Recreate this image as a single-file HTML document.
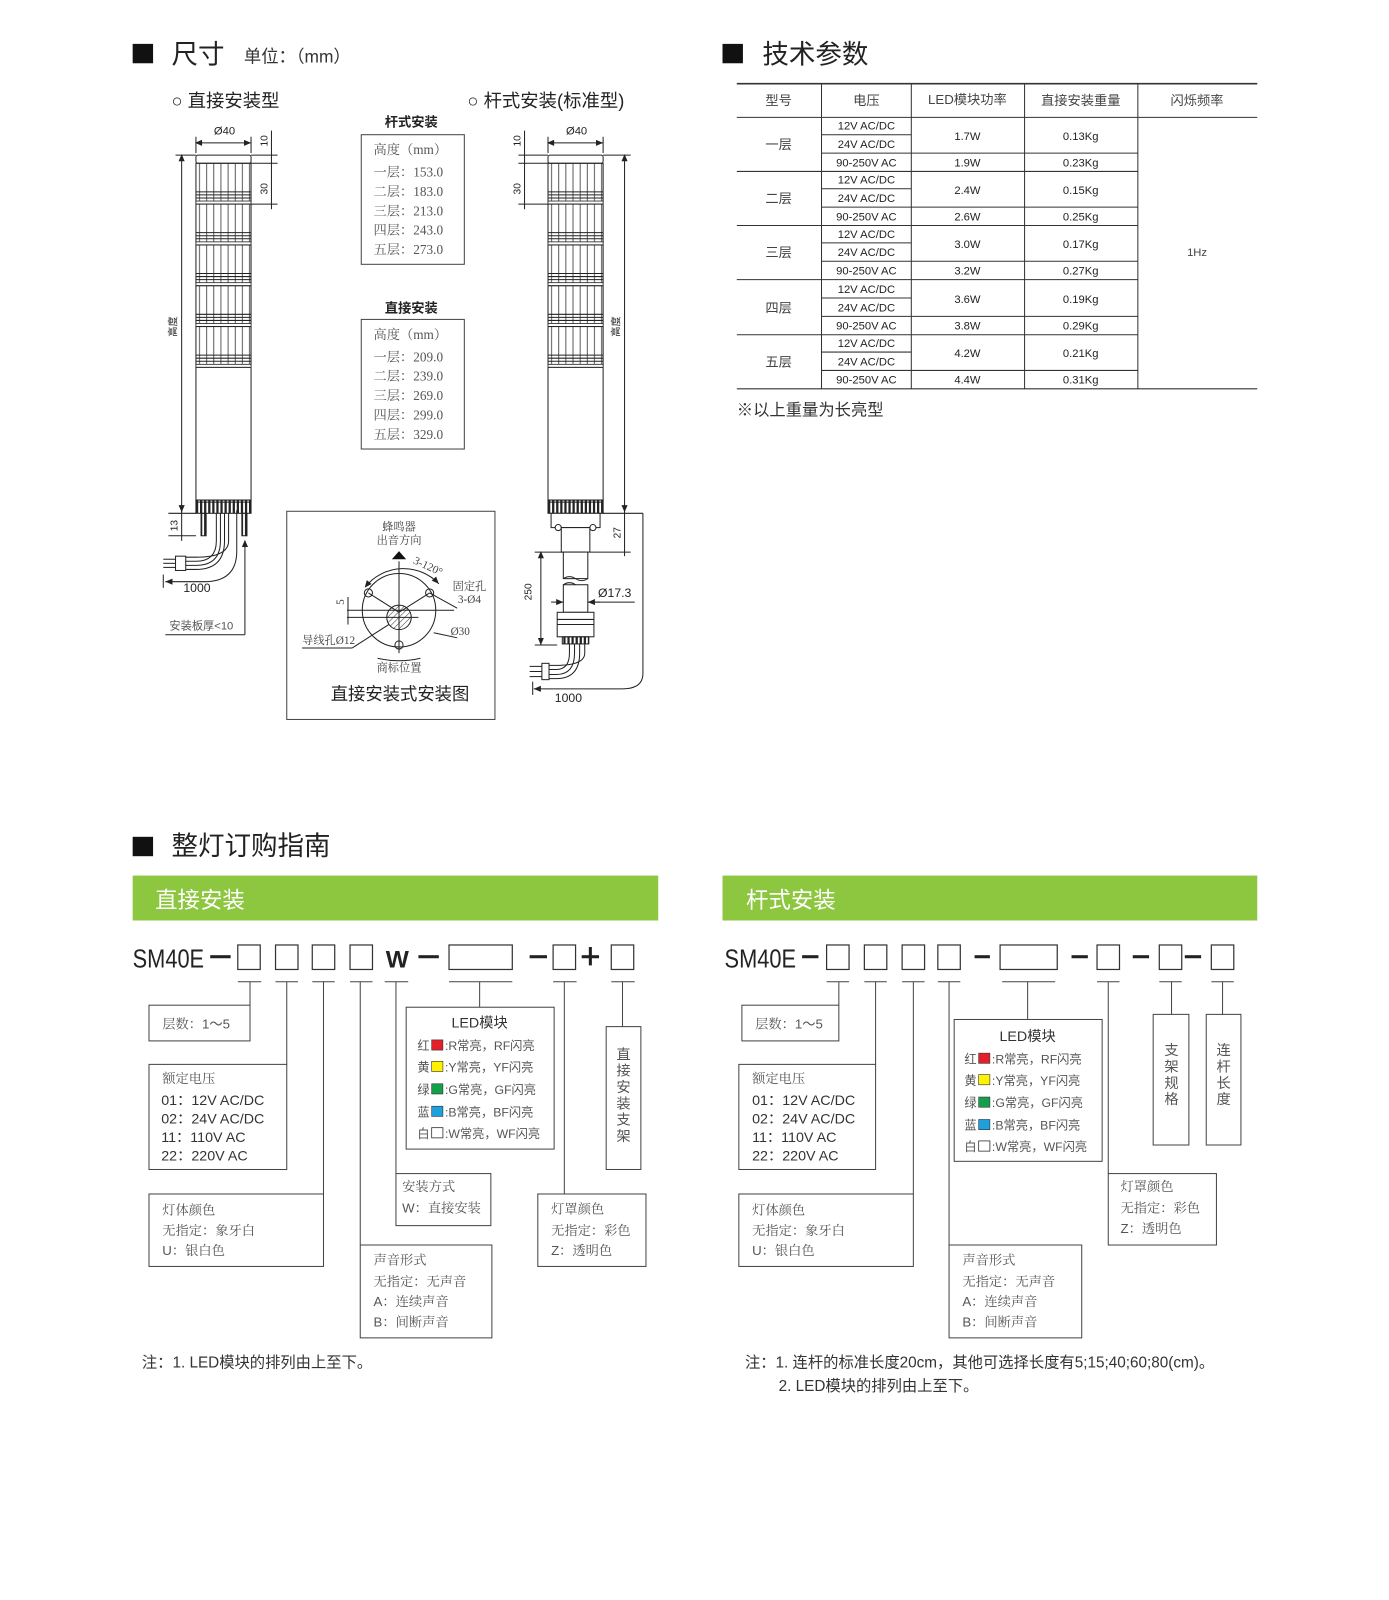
<!DOCTYPE html>
<html><head><meta charset="utf-8"><style>
html,body{margin:0;padding:0;background:#fff;}
svg{display:block;}
.cn{font-family:"Liberation Sans","Noto Sans CJK SC",sans-serif;}
.sr{font-family:"Liberation Serif","Noto Serif CJK SC",serif;}
</style></head><body>
<svg width="1389" height="1600" viewBox="0 0 1389 1600" xmlns="http://www.w3.org/2000/svg" font-family="Liberation Sans, Noto Sans CJK SC, sans-serif">
<defs>
<pattern id="rib" width="7" height="10" patternUnits="userSpaceOnUse"><line x1="3.5" y1="0" x2="3.5" y2="10" stroke="#333" stroke-width="0.8"/></pattern>
<pattern id="rib2" width="4" height="10" patternUnits="userSpaceOnUse"><rect x="0" y="0" width="2.2" height="10" fill="#222"/></pattern>
<pattern id="hatch" width="4" height="4" patternUnits="userSpaceOnUse" patternTransform="rotate(45)"><line x1="0" y1="0" x2="0" y2="4" stroke="#333" stroke-width="1"/></pattern>
<marker id="ar" markerWidth="8" markerHeight="8" refX="7" refY="4" orient="auto"><path d="M0,1 L7,4 L0,7 z" fill="#222"/></marker>
<marker id="as" markerWidth="8" markerHeight="8" refX="1" refY="4" orient="auto"><path d="M7,1 L0,4 L7,7 z" fill="#222"/></marker>
<g id="tier"><rect x="0" y="0" width="54" height="38" fill="url(#rib)" stroke="#222" stroke-width="1"/><line x1="0" y1="28" x2="54" y2="28" stroke="#222"/><line x1="0" y1="31" x2="54" y2="31" stroke="#222"/><line x1="0" y1="34" x2="54" y2="34" stroke="#222"/><rect x="0" y="37" width="54" height="3" fill="#fff" stroke="#222" stroke-width="0.8"/></g>
<g id="lamp"><rect x="0" y="0" width="54" height="8" rx="2" fill="#fff" stroke="#222"/>
<use href="#tier" y="8"/><use href="#tier" y="48"/><use href="#tier" y="88"/><use href="#tier" y="128"/><use href="#tier" y="168"/>
<rect x="0" y="208" width="54" height="130" fill="#fff" stroke="#222"/>
<rect x="0" y="338" width="54" height="13" fill="url(#rib2)" stroke="#222"/><line x1="0" y1="340" x2="54" y2="340" stroke="#222"/></g>
</defs>
<g transform="scale(1.0205)">
<!-- headers -->
<rect x="130" y="43" width="20" height="19" fill="#111"/>
<text x="168" y="62" font-size="26" fill="#222">尺寸</text>
<text x="239" y="61" font-size="17" fill="#333">单位：（mm）</text>
<rect x="708" y="43" width="20" height="19" fill="#111"/>
<text x="747" y="62" font-size="26" fill="#222">技术参数</text>

<text x="168" y="105" font-size="18" fill="#222">○ 直接安装型</text>
<text x="458" y="105" font-size="18" fill="#222">○ 杆式安装(标准型)</text>

<!-- left lamp -->
<g transform="translate(192,152)"><use href="#lamp"/></g>
<g stroke="#222" fill="none" stroke-width="1">
<line x1="192" y1="140" x2="246" y2="140" marker-end="url(#ar)" marker-start="url(#as)"/>
<line x1="192" y1="134" x2="192" y2="150"/><line x1="246" y1="134" x2="246" y2="150"/>
<line x1="266" y1="128" x2="266" y2="205"/>
<line x1="246" y1="152" x2="272" y2="152"/><line x1="246" y1="160" x2="272" y2="160"/><line x1="246" y1="200" x2="272" y2="200"/>
<line x1="178" y1="152" x2="178" y2="502" marker-end="url(#ar)" marker-start="url(#as)"/>
<line x1="172" y1="152" x2="192" y2="152"/>
<line x1="165" y1="503" x2="192" y2="503"/><line x1="165" y1="525" x2="192" y2="525"/>
<line x1="178" y1="495" x2="178" y2="530"/>
<rect x="197" y="503" width="5" height="22" fill="url(#rib2)"/><rect x="237" y="503" width="5" height="22" fill="url(#rib2)"/>
<path d="M212,503 V530 Q212,550 192,550 H182"/><path d="M216,503 V530 Q216,554 192,554 H182"/><path d="M220,503 V530 Q220,558 192,558 H182"/><path d="M224,503 V530 Q224,546 192,546 H182"/>
<rect x="172" y="545" width="10" height="14" fill="#fff"/>
<line x1="160" y1="548" x2="172" y2="548"/><line x1="160" y1="552" x2="172" y2="552"/><line x1="160" y1="556" x2="172" y2="556"/>
<path d="M232,500 V540 Q232,570 200,570 H162" marker-end="url(#ar)"/>
<line x1="160" y1="563" x2="160" y2="576"/>
<line x1="240" y1="530" x2="240" y2="622" marker-start="url(#as)"/>
<line x1="162" y1="622" x2="240" y2="622"/>
</g>
<text x="220" y="132" font-size="11" text-anchor="middle" fill="#222">Ø40</text>
<text transform="translate(262,138) rotate(-90)" font-size="10" text-anchor="middle" fill="#222">10</text>
<text transform="translate(262,185) rotate(-90)" font-size="10" text-anchor="middle" fill="#222">30</text>
<text transform="translate(173,320) rotate(-90)" font-size="10" text-anchor="middle" fill="#222">高度</text>
<text transform="translate(174,515) rotate(-90)" font-size="10" text-anchor="middle" fill="#222">13</text>
<text x="193" y="580" font-size="12" text-anchor="middle" fill="#222">1000</text>
<text x="166" y="617" font-size="11" fill="#555">安装板厚&lt;10</text>

<!-- center tables -->
<text x="403" y="124" font-size="13" text-anchor="middle" font-weight="bold" fill="#222">杆式安装</text>
<rect x="354" y="132" width="101" height="127" fill="none" stroke="#444"/>
<g class="sr" font-size="13" fill="#555">
<text x="366" y="151">高度（mm）</text><text x="366" y="173">一层：153.0</text><text x="366" y="192">二层：183.0</text><text x="366" y="211">三层：213.0</text><text x="366" y="230">四层：243.0</text><text x="366" y="249">五层：273.0</text>
</g>
<text x="403" y="306" font-size="13" text-anchor="middle" font-weight="bold" fill="#222">直接安装</text>
<rect x="354" y="313" width="101" height="127" fill="none" stroke="#444"/>
<g class="sr" font-size="13" fill="#555">
<text x="366" y="332">高度（mm）</text><text x="366" y="354">一层：209.0</text><text x="366" y="373">二层：239.0</text><text x="366" y="392">三层：269.0</text><text x="366" y="411">四层：299.0</text><text x="366" y="430">五层：329.0</text>
</g>

<!-- install diagram -->
<rect x="281" y="501" width="204" height="204" fill="none" stroke="#444"/>
<g class="sr" font-size="11" fill="#444" text-anchor="middle">
<text x="391" y="520">蜂鸣器</text><text x="391" y="533">出音方向</text>
<text x="460" y="578">固定孔</text><text x="460" y="591">3-Ø4</text>
<text x="451" y="622">Ø30</text><text x="322" y="631">导线孔Ø12</text>
<text x="391" y="658">商标位置</text>
<text transform="translate(418,558) rotate(25)" font-size="11">3-120°</text>
<text transform="translate(337,590) rotate(-90)">5</text>
</g>
<path d="M384,548 L391,540 L398,548 Z" fill="#111"/>
<g stroke="#222" fill="none" stroke-width="1">
<circle cx="391" cy="598" r="36"/>
<circle cx="391" cy="605" r="12" fill="url(#hatch)"/>
<circle cx="361" cy="581" r="4"/><circle cx="421" cy="581" r="4"/><circle cx="391" cy="632" r="4"/>
<line x1="391" y1="550" x2="391" y2="640"/>
<line x1="340" y1="598" x2="445" y2="598"/><line x1="340" y1="605" x2="410" y2="605"/>
<line x1="361" y1="581" x2="391" y2="600"/><line x1="421" y1="581" x2="391" y2="600"/>
<line x1="421" y1="581" x2="448" y2="596"/>
<path d="M358,575 A48,48 0 0 1 430,572" marker-end="url(#ar)" marker-start="url(#as)"/>
<line x1="425" y1="620" x2="448" y2="625"/>
<line x1="381" y1="612" x2="345" y2="635"/><line x1="296" y1="635" x2="345" y2="635"/>
<path d="M370,645 Q391,650 412,645"/>
<line x1="341" y1="585" x2="341" y2="612"/>
</g>
<text x="392" y="686" font-size="17" text-anchor="middle" fill="#222">直接安装式安装图</text>

<!-- right lamp -->
<g transform="translate(537,152)"><use href="#lamp"/></g>
<g stroke="#222" fill="none" stroke-width="1">
<rect x="540" y="503" width="48" height="14" fill="#fff"/>
<circle cx="547" cy="517" r="3" fill="#fff"/><circle cx="581" cy="517" r="3" fill="#fff"/>
<rect x="550" y="517" width="28" height="24" fill="#fff"/>
<rect x="552" y="541" width="24" height="26" fill="#fff"/>
<path d="M552,567 Q558,563 564,567 T576,567"/>
<path d="M552,573 Q558,569 564,573 T576,573"/>
<rect x="552" y="573" width="24" height="27" fill="#fff"/>
<rect x="546" y="600" width="36" height="24" fill="#fff"/>
<line x1="546" y1="607" x2="582" y2="607"/><line x1="546" y1="612" x2="582" y2="612"/>
<rect x="551" y="624" width="26" height="7" fill="url(#rib2)"/>
<path d="M558,631 V640 Q558,656 545,656 H538"/><path d="M563,631 V640 Q563,661 545,661 H538"/><path d="M568,631 V640 Q568,665 545,665 H538"/><path d="M573,631 V640 Q573,652 545,652 H538"/>
<rect x="531" y="650" width="7" height="16" fill="#fff"/>
<line x1="519" y1="653" x2="531" y2="653"/><line x1="519" y1="658" x2="531" y2="658"/><line x1="519" y1="663" x2="531" y2="663"/>
<line x1="537" y1="140" x2="591" y2="140" marker-end="url(#ar)" marker-start="url(#as)"/>
<line x1="537" y1="134" x2="537" y2="150"/><line x1="591" y1="134" x2="591" y2="150"/>
<line x1="514" y1="128" x2="514" y2="205"/>
<line x1="508" y1="152" x2="537" y2="152"/><line x1="508" y1="160" x2="537" y2="160"/><line x1="508" y1="200" x2="537" y2="200"/>
<line x1="612" y1="152" x2="612" y2="502" marker-end="url(#ar)" marker-start="url(#as)"/>
<line x1="591" y1="152" x2="618" y2="152"/><line x1="591" y1="503" x2="630" y2="503"/>
<line x1="612" y1="498" x2="612" y2="545"/><line x1="578" y1="541" x2="618" y2="541"/>
<line x1="530" y1="541" x2="530" y2="632" marker-end="url(#ar)" marker-start="url(#as)"/>
<line x1="524" y1="541" x2="552" y2="541"/><line x1="524" y1="632" x2="546" y2="632"/>
<line x1="540" y1="590" x2="552" y2="590" marker-end="url(#ar)"/><line x1="588" y1="590" x2="576" y2="590" marker-end="url(#ar)"/>
<line x1="576" y1="590" x2="622" y2="590"/>
<path d="M630,503 V660 Q630,675 610,675 H523" marker-end="url(#ar)"/>
<line x1="522" y1="668" x2="522" y2="681"/>
</g>
<text x="565" y="132" font-size="11" text-anchor="middle" fill="#222">Ø40</text>
<text transform="translate(510,138) rotate(-90)" font-size="10" text-anchor="middle" fill="#222">10</text>
<text transform="translate(510,185) rotate(-90)" font-size="10" text-anchor="middle" fill="#222">30</text>
<text transform="translate(607,320) rotate(-90)" font-size="10" text-anchor="middle" fill="#222">高度</text>
<text transform="translate(608,522) rotate(-90)" font-size="10" text-anchor="middle" fill="#222">27</text>
<text transform="translate(521,580) rotate(-90)" font-size="10" text-anchor="middle" fill="#222">250</text>
<text x="586" y="585" font-size="12" fill="#222">Ø17.3</text>
<text x="557" y="688" font-size="12" text-anchor="middle" fill="#222">1000</text>

<!-- tech table -->
<g stroke="#333" stroke-width="1" fill="none">
<line x1="722" y1="82" x2="1232" y2="82" stroke-width="1.5"/>
<line x1="722" y1="115" x2="1232" y2="115"/>
<line x1="722" y1="381" x2="1232" y2="381" stroke-width="1.2"/>
<line x1="805" y1="82" x2="805" y2="381"/><line x1="893" y1="82" x2="893" y2="381"/><line x1="1004" y1="82" x2="1004" y2="381"/><line x1="1115" y1="82" x2="1115" y2="381"/>
<line x1="722" y1="168" x2="1115" y2="168"/><line x1="722" y1="221" x2="1115" y2="221"/><line x1="722" y1="274" x2="1115" y2="274"/><line x1="722" y1="328" x2="1115" y2="328"/>
<line x1="805" y1="132" x2="893" y2="132"/><line x1="805" y1="150" x2="1115" y2="150"/>
<line x1="805" y1="185" x2="893" y2="185"/><line x1="805" y1="203" x2="1115" y2="203"/>
<line x1="805" y1="238" x2="893" y2="238"/><line x1="805" y1="256" x2="1115" y2="256"/>
<line x1="805" y1="292" x2="893" y2="292"/><line x1="805" y1="310" x2="1115" y2="310"/>
<line x1="805" y1="345" x2="893" y2="345"/><line x1="805" y1="363" x2="1115" y2="363"/>
</g>
<g font-size="13" fill="#444" text-anchor="middle">
<text x="763" y="103">型号</text><text x="849" y="103">电压</text><text x="948" y="102">LED模块功率</text><text x="1059" y="103">直接安装重量</text><text x="1173" y="103">闪烁频率</text>
<text x="763" y="146">一层</text><text x="763" y="199">二层</text><text x="763" y="252">三层</text><text x="763" y="306">四层</text><text x="763" y="359">五层</text>
<text x="1173" y="251" font-size="11">1Hz</text>
</g>
<g font-size="11" fill="#222" text-anchor="middle">
<text x="849" y="127">12V AC/DC</text><text x="849" y="145">24V AC/DC</text><text x="849" y="163">90-250V AC</text>
<text x="849" y="180">12V AC/DC</text><text x="849" y="198">24V AC/DC</text><text x="849" y="216">90-250V AC</text>
<text x="849" y="233">12V AC/DC</text><text x="849" y="251">24V AC/DC</text><text x="849" y="269">90-250V AC</text>
<text x="849" y="287">12V AC/DC</text><text x="849" y="305">24V AC/DC</text><text x="849" y="323">90-250V AC</text>
<text x="849" y="340">12V AC/DC</text><text x="849" y="358">24V AC/DC</text><text x="849" y="376">90-250V AC</text>
<text x="948" y="137">1.7W</text><text x="948" y="163">1.9W</text><text x="948" y="190">2.4W</text><text x="948" y="216">2.6W</text>
<text x="948" y="243">3.0W</text><text x="948" y="269">3.2W</text><text x="948" y="297">3.6W</text><text x="948" y="323">3.8W</text>
<text x="948" y="350">4.2W</text><text x="948" y="376">4.4W</text>
<text x="1059" y="137">0.13Kg</text><text x="1059" y="163">0.23Kg</text><text x="1059" y="190">0.15Kg</text><text x="1059" y="216">0.25Kg</text>
<text x="1059" y="243">0.17Kg</text><text x="1059" y="269">0.27Kg</text><text x="1059" y="297">0.19Kg</text><text x="1059" y="323">0.29Kg</text>
<text x="1059" y="350">0.21Kg</text><text x="1059" y="376">0.31Kg</text>
</g>
<text x="722" y="407" font-size="16" fill="#333">※以上重量为长亮型</text>

<!-- ordering guide -->
<rect x="130" y="820" width="20" height="19" fill="#111"/>
<text x="168" y="838" font-size="26" fill="#222">整灯订购指南</text>
<rect x="130" y="858" width="515" height="44" fill="#8dc63f"/>
<text x="152" y="890" font-size="22" fill="#fff">直接安装</text>
<rect x="708" y="858" width="524" height="44" fill="#8dc63f"/>
<text x="731" y="890" font-size="22" fill="#fff">杆式安装</text>

<!-- left code -->
<g fill="#222">
<text x="130" y="948" font-size="25" textLength="70" lengthAdjust="spacingAndGlyphs">SM40E</text>
<text x="378" y="948" font-size="24" font-weight="bold">W</text>
<rect x="206" y="936" width="20" height="3"/><rect x="410" y="936" width="20" height="3"/><rect x="519" y="936" width="17" height="3"/>
<rect x="570" y="936" width="17" height="3"/><rect x="577" y="928" width="3" height="18"/>
</g>
<g stroke="#333" fill="none" stroke-width="1.2">
<rect x="233" y="926" width="22" height="24"/><rect x="270" y="926" width="22" height="24"/><rect x="306" y="926" width="22" height="24"/><rect x="343" y="926" width="22" height="24"/>
<rect x="440" y="926" width="62" height="24"/><rect x="542" y="926" width="22" height="24"/><rect x="599" y="926" width="22" height="24"/>
</g>
<g stroke="#444" fill="none" stroke-width="1">
<line x1="233" y1="962" x2="256" y2="962"/><line x1="270" y1="962" x2="292" y2="962"/><line x1="306" y1="962" x2="328" y2="962"/><line x1="343" y1="962" x2="365" y2="962"/>
<line x1="377" y1="962" x2="400" y2="962"/><line x1="440" y1="962" x2="502" y2="962"/><line x1="542" y1="962" x2="565" y2="962"/><line x1="599" y1="962" x2="622" y2="962"/>
<line x1="245" y1="962" x2="245" y2="985"/><rect x="146" y="985" width="99" height="35"/>
<line x1="281" y1="962" x2="281" y2="1043"/><rect x="146" y="1043" width="135" height="103"/>
<line x1="317" y1="962" x2="317" y2="1170"/><rect x="146" y="1170" width="171" height="71"/>
<line x1="353" y1="962" x2="353" y2="1220"/><rect x="353" y="1220" width="129" height="91"/>
<line x1="388" y1="962" x2="388" y2="1150"/><rect x="388" y="1150" width="93" height="51"/>
<line x1="470" y1="962" x2="470" y2="987"/><rect x="398" y="987" width="145" height="139"/>
<line x1="553" y1="962" x2="553" y2="1170"/><rect x="527" y="1170" width="106" height="71"/>
<line x1="610" y1="962" x2="610" y2="1006"/><rect x="594" y="1006" width="34" height="140"/>
</g>
<g font-size="13" fill="#555" class="sr">
<text x="159" y="1008">层数：<tspan class="cn">1～5</tspan></text>
<text x="159" y="1061">额定电压</text>
<text x="159" y="1190">灯体颜色</text><text x="159" y="1210">无指定：象牙白</text><text x="159" y="1230"><tspan class="cn">U</tspan>：银白色</text>
<text x="366" y="1239">声音形式</text><text x="366" y="1260">无指定：无声音</text><text x="366" y="1280"><tspan class="cn">A</tspan>：连续声音</text><text x="366" y="1300"><tspan class="cn">B</tspan>：间断声音</text>
<text x="394" y="1167">安装方式</text><text x="394" y="1188"><tspan class="cn">W</tspan>：直接安装</text>
<text x="540" y="1189">灯罩颜色</text><text x="540" y="1210">无指定：彩色</text><text x="540" y="1230"><tspan class="cn">Z</tspan>：透明色</text>
</g>
<g font-size="14" fill="#333">
<text x="158" y="1083">01：12V  AC/DC</text><text x="158" y="1101">02：24V  AC/DC</text><text x="158" y="1119">11：110V  AC</text><text x="158" y="1137">22：220V  AC</text>
<text x="470" y="1007" text-anchor="middle">LED模块</text>
</g>
<g font-size="12" fill="#555">
<text x="409" y="1029">红</text><text x="436" y="1029">:R常亮，RF闪亮</text>
<text x="409" y="1050">黄</text><text x="436" y="1050">:Y常亮，YF闪亮</text>
<text x="409" y="1072">绿</text><text x="436" y="1072">:G常亮，GF闪亮</text>
<text x="409" y="1094">蓝</text><text x="436" y="1094">:B常亮，BF闪亮</text>
<text x="409" y="1115">白</text><text x="436" y="1115">:W常亮，WF闪亮</text>
</g>
<rect x="423" y="1019" width="11" height="10" fill="#e3202a" stroke="#333" stroke-width="0.6"/>
<rect x="423" y="1040" width="11" height="10" fill="#fff200" stroke="#333" stroke-width="0.6"/>
<rect x="423" y="1062" width="11" height="10" fill="#14a04a" stroke="#333" stroke-width="0.6"/>
<rect x="423" y="1084" width="11" height="10" fill="#1ea0dc" stroke="#333" stroke-width="0.6"/>
<rect x="423" y="1105" width="11" height="10" fill="#fff" stroke="#333" stroke-width="0.8"/>
<g font-size="14" fill="#555" text-anchor="middle">
<text x="611" y="1038">直</text><text x="611" y="1054">接</text><text x="611" y="1070">安</text><text x="611" y="1086">装</text><text x="611" y="1102">支</text><text x="611" y="1118">架</text>
</g>

<!-- right code -->
<g fill="#222">
<text x="710" y="948" font-size="25" textLength="70" lengthAdjust="spacingAndGlyphs">SM40E</text>
<rect x="786" y="936" width="16" height="3"/><rect x="955" y="936" width="15" height="3"/><rect x="1050" y="936" width="16" height="3"/>
<rect x="1110" y="936" width="16" height="3"/><rect x="1161" y="936" width="16" height="3"/>
</g>
<g stroke="#333" fill="none" stroke-width="1.2">
<rect x="810" y="926" width="22" height="24"/><rect x="847" y="926" width="22" height="24"/><rect x="884" y="926" width="22" height="24"/><rect x="919" y="926" width="22" height="24"/>
<rect x="980" y="926" width="56" height="24"/><rect x="1075" y="926" width="22" height="24"/><rect x="1136" y="926" width="22" height="24"/><rect x="1187" y="926" width="22" height="24"/>
</g>
<g stroke="#444" fill="none" stroke-width="1">
<line x1="810" y1="962" x2="832" y2="962"/><line x1="847" y1="962" x2="869" y2="962"/><line x1="884" y1="962" x2="906" y2="962"/><line x1="919" y1="962" x2="941" y2="962"/>
<line x1="982" y1="962" x2="1034" y2="962"/><line x1="1075" y1="962" x2="1097" y2="962"/><line x1="1136" y1="962" x2="1158" y2="962"/><line x1="1187" y1="962" x2="1209" y2="962"/>
<line x1="822" y1="962" x2="822" y2="985"/><rect x="727" y="985" width="95" height="35"/>
<line x1="858" y1="962" x2="858" y2="1043"/><rect x="724" y="1043" width="134" height="103"/>
<line x1="895" y1="962" x2="895" y2="1170"/><rect x="724" y="1170" width="171" height="71"/>
<line x1="930" y1="962" x2="930" y2="1220"/><rect x="930" y="1220" width="130" height="91"/>
<line x1="1007" y1="962" x2="1007" y2="999"/><rect x="935" y="999" width="145" height="139"/>
<line x1="1086" y1="962" x2="1086" y2="1150"/><rect x="1086" y="1150" width="106" height="70"/>
<line x1="1148" y1="962" x2="1148" y2="994"/><rect x="1130" y="994" width="35" height="128"/>
<line x1="1198" y1="962" x2="1198" y2="994"/><rect x="1182" y="994" width="34" height="128"/>
</g>
<g font-size="13" fill="#555" class="sr">
<text x="740" y="1008">层数：<tspan class="cn">1～5</tspan></text>
<text x="737" y="1061">额定电压</text>
<text x="737" y="1190">灯体颜色</text><text x="737" y="1210">无指定：象牙白</text><text x="737" y="1230"><tspan class="cn">U</tspan>：银白色</text>
<text x="943" y="1239">声音形式</text><text x="943" y="1260">无指定：无声音</text><text x="943" y="1280"><tspan class="cn">A</tspan>：连续声音</text><text x="943" y="1300"><tspan class="cn">B</tspan>：间断声音</text>
<text x="1098" y="1167">灯罩颜色</text><text x="1098" y="1188">无指定：彩色</text><text x="1098" y="1208"><tspan class="cn">Z</tspan>：透明色</text>
</g>
<g font-size="14" fill="#333">
<text x="737" y="1083">01：12V  AC/DC</text><text x="737" y="1101">02：24V  AC/DC</text><text x="737" y="1119">11：110V  AC</text><text x="737" y="1137">22：220V  AC</text>
<text x="1007" y="1020" text-anchor="middle">LED模块</text>
</g>
<g font-size="12" fill="#555">
<text x="945" y="1042">红</text><text x="972" y="1042">:R常亮，RF闪亮</text>
<text x="945" y="1063">黄</text><text x="972" y="1063">:Y常亮，YF闪亮</text>
<text x="945" y="1085">绿</text><text x="972" y="1085">:G常亮，GF闪亮</text>
<text x="945" y="1107">蓝</text><text x="972" y="1107">:B常亮，BF闪亮</text>
<text x="945" y="1128">白</text><text x="972" y="1128">:W常亮，WF闪亮</text>
</g>
<rect x="959" y="1032" width="11" height="10" fill="#e3202a" stroke="#333" stroke-width="0.6"/>
<rect x="959" y="1053" width="11" height="10" fill="#fff200" stroke="#333" stroke-width="0.6"/>
<rect x="959" y="1075" width="11" height="10" fill="#14a04a" stroke="#333" stroke-width="0.6"/>
<rect x="959" y="1097" width="11" height="10" fill="#1ea0dc" stroke="#333" stroke-width="0.6"/>
<rect x="959" y="1118" width="11" height="10" fill="#fff" stroke="#333" stroke-width="0.8"/>
<g font-size="14" fill="#555" text-anchor="middle">
<text x="1148" y="1034">支</text><text x="1148" y="1050">架</text><text x="1148" y="1066">规</text><text x="1148" y="1082">格</text>
<text x="1199" y="1034">连</text><text x="1199" y="1050">杆</text><text x="1199" y="1066">长</text><text x="1199" y="1082">度</text>
</g>

<!-- notes -->
<text x="139" y="1340" font-size="15" fill="#333">注：1. LED模块的排列由上至下。</text>
<text x="730" y="1340" font-size="15" fill="#333">注：1. 连杆的标准长度20cm，其他可选择长度有5;15;40;60;80(cm)。</text>
<text x="763" y="1363" font-size="15" fill="#333">2. LED模块的排列由上至下。</text>
</g>
</svg>
</body></html>
